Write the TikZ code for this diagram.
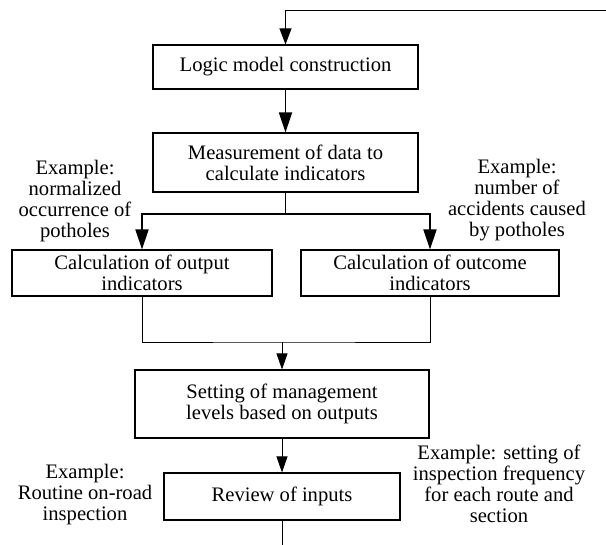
\documentclass[tikz,border=0pt]{standalone}
\usepackage{fontspec}
\setmainfont{Liberation Serif}
\usetikzlibrary{arrows.meta}
\begin{document}
\begin{tikzpicture}[x=1pt,y=-1pt,
    stagebox/.style={draw,line width=1.1pt,align=center,inner sep=0pt},
    note/.style={align=center,inner sep=0pt},
    heavy/.style={line width=1.8pt,-{Triangle[length=20pt,width=13pt]}},
    light/.style={line width=0.8pt,-{Triangle[length=16pt,width=11pt]}},
    every node/.style={font=\fontsize{20.6pt}{21pt}\selectfont}]
  \useasboundingbox (0,0) rectangle (606,545);
  % boxes
  \node[stagebox,minimum width=265pt,minimum height=44pt] (logic) at (285.5,67) {Logic model construction};
  \node[stagebox,minimum width=265pt,minimum height=59pt] (measure) at (285.5,162.5) {Measurement of data to\\calculate indicators};
  \node[stagebox,minimum width=260pt,minimum height=46pt] (output) at (142,273) {Calculation of output\\indicators};
  \node[stagebox,minimum width=258pt,minimum height=46pt] (outcome) at (430,273) {Calculation of outcome\\indicators};
  \node[stagebox,minimum width=294pt,minimum height=68pt] (setting) at (282,404) {Setting of management\\levels based on outputs};
  \node[stagebox,minimum width=236pt,minimum height=47pt] (review) at (282,496.5) {Review of inputs};
  % examples
  \node[note] (exout) at (75,201) {Example:\\normalized\\occurrence of\\potholes};
  \node[note] (exoutcome) at (517,200) {Example:\\number of\\accidents caused\\by potholes};
  \node[note] (exinput) at (85,495) {Example:\\Routine on-road\\inspection};
  \node[note] (exlevel) at (499,483.5) {Example: setting of\\inspection frequency\\for each route and\\section};
  % connectors
  \coordinate (back) at (606,10);
  \coordinate (split) at (285.5,214);
  \coordinate (join) at (282,342);
  \coordinate (next) at (282,545);
  \draw[line width=0.9pt,-{Triangle[length=16pt,width=12pt]}] (back) -| (logic.north);
  \draw[heavy] (logic) -- (measure);
  \draw[line width=1.8pt] (measure.south) -- (split);
  \foreach \target in {output, outcome} {
    \draw[heavy] (split) -| (\target.north);
  }
  \draw[line width=0.8pt] (output.south) |- (join) -| (outcome.south);
  \draw[light] (join) -- (setting.north);
  \draw[light] (setting) -- (review);
  \draw[line width=0.8pt] (review.south) -- (next);
\end{tikzpicture}
\end{document}
